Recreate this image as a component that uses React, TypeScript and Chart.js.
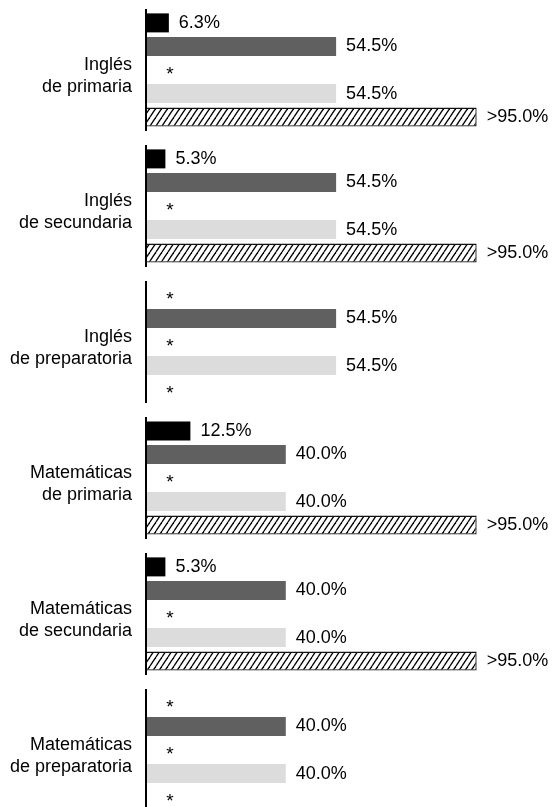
import React, { useEffect, useRef } from "react";
import { Chart, registerables } from "chart.js";

Chart.register(...registerables);

const categories: string[][] = [
  ["Inglés", "de primaria"],
  ["Inglés", "de secundaria"],
  ["Inglés", "de preparatoria"],
  ["Matemáticas", "de primaria"],
  ["Matemáticas", "de secundaria"],
  ["Matemáticas", "de preparatoria"],
];

// five bars per group; null = not reported (shown as "*")
const seriesBlack: (number | null)[] = [6.3, 5.3, null, 12.5, 5.3, null];
const seriesDark: (number | null)[] = [54.5, 54.5, 54.5, 40.0, 40.0, 40.0];
const seriesMissing: (number | null)[] = [null, null, null, null, null, null];
const seriesLight: (number | null)[] = [54.5, 54.5, 54.5, 40.0, 40.0, 40.0];
const seriesHatched: (number | null)[] = [95.0, 95.0, null, 95.0, 95.0, null];
const labelPrefixes: string[] = ["", "", "", "", ">"];

const FONT = "'Liberation Sans', Arial, Helvetica, sans-serif";
const TEXT = "#000";

function makeHatch(): CanvasPattern | string {
  const w = 6;
  const h = 9;
  const c = document.createElement("canvas");
  c.width = w;
  c.height = h;
  const ctx = c.getContext("2d");
  if (!ctx) return "#fff";
  ctx.fillStyle = "#fff";
  ctx.fillRect(0, 0, w, h);
  ctx.strokeStyle = "#000";
  ctx.lineWidth = 1.3;
  for (const off of [-w, 0, w]) {
    ctx.beginPath();
    ctx.moveTo(off, h);
    ctx.lineTo(off + w, 0);
    ctx.stroke();
  }
  const p = ctx.createPattern(c, "repeat");
  return p || "#fff";
}

const annotatePlugin = {
  id: "annotate",
  afterDatasetsDraw(chart: any) {
    const ctx = chart.ctx;
    const yScale = chart.scales.y;
    const xScale = chart.scales.x;
    const base = xScale.getPixelForValue(0);
    ctx.save();
    // axis segments per group
    ctx.strokeStyle = "#000";
    ctx.lineWidth = 2;
    categories.forEach((_, i) => {
      const yc = yScale.getPixelForValue(i);
      ctx.beginPath();
      ctx.moveTo(base - 1, yc - 61);
      ctx.lineTo(base - 1, yc + 61);
      ctx.stroke();
    });
    ctx.fillStyle = TEXT;
    chart.data.datasets.forEach((ds: any, d: number) => {
      const meta = chart.getDatasetMeta(d);
      ds.data.forEach((v: number | null, i: number) => {
        const el = meta.data[i];
        if (!el) return;
        ctx.textBaseline = "middle";
        if (v === null || v === undefined) {
          ctx.font = `19px ${FONT}`;
          ctx.textAlign = "center";
          ctx.fillText("*", base + 23, el.y + 5);
        } else {
          ctx.font = `18px ${FONT}`;
          ctx.textAlign = "left";
          ctx.fillText(labelPrefixes[d] + v.toFixed(1) + "%", el.x + 10, el.y);
        }
      });
    });
    ctx.restore();
  },
};

export default function App() {
  const ref = useRef<HTMLCanvasElement | null>(null);
  useEffect(() => {
    if (!ref.current) return;
    const hatch = makeHatch();
    const chart = new Chart(ref.current, {
      type: "bar",
      data: {
        labels: categories,
        datasets: [
          { label: "a", data: seriesBlack, backgroundColor: "#000", borderWidth: 0, clip: false as any },
          { label: "b", data: seriesDark, backgroundColor: "#606060", borderWidth: 0, clip: false as any },
          { label: "c", data: seriesMissing, backgroundColor: "#000", borderWidth: 0, clip: false as any },
          { label: "d", data: seriesLight, backgroundColor: "#dcdcdc", borderWidth: 0, clip: false as any },
          { label: "e", data: seriesHatched, backgroundColor: hatch as any, borderColor: "#111", borderWidth: 1.3, clip: false as any },
        ],
      },
      options: {
        indexAxis: "y",
        responsive: false,
        animation: false,
        devicePixelRatio: 1,
        layout: { padding: { top: 70, bottom: 57, left: 0, right: 60 } },
        datasets: { bar: { categoryPercentage: 0.866, barPercentage: 0.807 } } as any,
        plugins: { legend: { display: false }, tooltip: { enabled: false }, title: { display: false } },
        scales: {
          x: { type: "linear", min: 0, max: 100, display: false },
          y: {
            type: "category",
            offset: false,
            grid: { display: false, drawTicks: false },
            border: { display: false },
            afterFit: (scale: any) => {
              scale.width = 147;
            },
            ticks: {
              padding: 15,
              labelOffset: 6,
              color: TEXT,
              font: { family: FONT, size: 18, lineHeight: 1.2 },
              autoSkip: false,
            },
          },
        },
      },
      plugins: [annotatePlugin],
    });
    return () => chart.destroy();
  }, []);
  return (
    <div style={{ position: "absolute", left: 0, top: 0, width: 554, height: 807, background: "#fff" }}>
      <canvas ref={ref} width={554} height={807} style={{ display: "block" }} />
    </div>
  );
}
